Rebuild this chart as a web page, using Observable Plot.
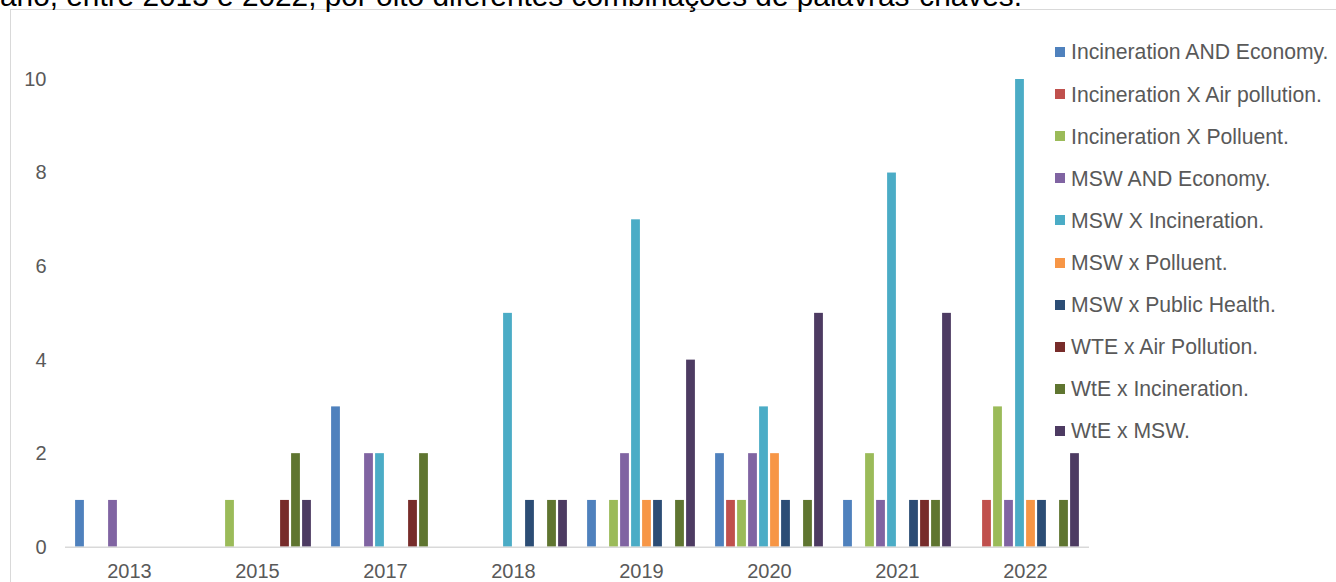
<!DOCTYPE html>
<html>
<head>
<meta charset="utf-8">
<script src="https://cdn.jsdelivr.net/npm/d3@7"></script>
<script src="https://cdn.jsdelivr.net/npm/@observablehq/plot@0.6"></script>
<style>
  html, body { margin: 0; padding: 0; background: #fff; overflow: hidden; }
  #wrap { position: relative; width: 1336px; height: 582px; overflow: hidden; font-family: "Liberation Sans", Arial, sans-serif; }
  #title { position: absolute; left: 0; top: -19px; font-size: 29.8px; line-height: 1; color: #000; white-space: nowrap; }
  #frame { position: absolute; left: 10px; top: 9px; width: 1400px; height: 700px; border: 1.5px solid #d9d9d9; box-sizing: border-box; }
  #chart { position: absolute; left: 0; top: 0; }
  #legend { position: absolute; left: 1055px; top: 31px; }
  .row { display: flex; align-items: center; height: 42.1px; }
  .sw { width: 10px; height: 10px; margin-right: 6px; }
  .lb { font-size: 21.2px; line-height: 1; color: #595959; white-space: nowrap; }
</style>
</head>
<body>
<div id="wrap">
  <div id="frame"></div>
  <div id="chart"></div>
  <div id="title">ano, entre 2013 e 2022, por oito diferentes combinações de palavras-chaves.</div>
  <div id="legend"></div>
</div>
<script>
// Publication years on the category axis
const years = ["2013", "2015", "2017", "2018", "2019", "2020", "2021", "2022"];

// Keyword combinations searched
const series = [
  "Incineration AND Economy.",
  "Incineration X Air pollution.",
  "Incineration X Polluent.",
  "MSW AND Economy.",
  "MSW X Incineration.",
  "MSW x Polluent.",
  "MSW x Public Health.",
  "WTE x Air Pollution.",
  "WtE x Incineration.",
  "WtE x MSW."
];

const colors = ["#4f81bd", "#c0504d", "#9bbb59", "#8064a2", "#4bacc6",
                "#f79646", "#2c4d75", "#772c2a", "#5f7530", "#4d3b62"];

// Number of articles per year, one list per keyword combination
const incinerationEconomy   = [1, 0, 3, 0, 1, 2, 1, 0];
const incinerationAir       = [0, 0, 0, 0, 0, 1, 0, 1];
const incinerationPolluent  = [0, 1, 0, 0, 1, 1, 2, 3];
const mswEconomy            = [1, 0, 2, 0, 2, 2, 1, 1];
const mswIncineration       = [0, 0, 2, 5, 7, 3, 8, 10];
const mswPolluent           = [0, 0, 0, 0, 1, 2, 0, 1];
const mswPublicHealth       = [0, 0, 0, 1, 1, 1, 1, 1];
const wteAirPollution       = [0, 1, 1, 0, 0, 0, 1, 0];
const wteIncineration       = [0, 2, 2, 1, 1, 1, 1, 1];
const wteMsw                = [0, 1, 0, 1, 4, 5, 5, 2];

const yTicks = [0, 2, 4, 6, 8, 10];

const valueLists = [incinerationEconomy, incinerationAir, incinerationPolluent, mswEconomy,
  mswIncineration, mswPolluent, mswPublicHealth, wteAirPollution, wteIncineration, wteMsw];

const rows = [];
series.forEach((s, i) => {
  years.forEach((yr, j) => {
    const v = valueLists[i][j];
    if (v > 0) rows.push({year: yr, series: s, value: v});
  });
});

const chart = Plot.plot({
  width: 1336,
  height: 582,
  marginLeft: 63,
  marginRight: 245,
  marginTop: 79,
  marginBottom: 35.3,
  style: {fontFamily: "'Liberation Sans', Arial, sans-serif", fontSize: "20px", color: "#595959", background: "transparent"},
  fx: {domain: years, padding: 0, tickSize: 0, tickPadding: 17, label: null},
  x: {domain: series, axis: null, paddingInner: 0, paddingOuter: 0.714},
  y: {domain: [0, 10], ticks: yTicks, tickSize: 0, tickPadding: 19, label: null, tickFormat: d => String(d)},
  color: {domain: series, range: colors},
  marks: [
    Plot.barY(rows, {fx: "year", x: "series", y: "value", fill: "series", insetLeft: 1.1, insetRight: 1.1}),
    Plot.ruleY([0], {stroke: "#d9d9d9", strokeWidth: 1.5})
  ]
});
document.getElementById("chart").appendChild(chart);

// Legend: one swatch per keyword combination
const legend = d3.select("#legend");
series.forEach((s, i) => {
  const row = legend.append("div").attr("class", "row");
  row.append("div").attr("class", "sw").style("background", colors[i]);
  row.append("div").attr("class", "lb").text(s);
});
</script>
</body>
</html>
